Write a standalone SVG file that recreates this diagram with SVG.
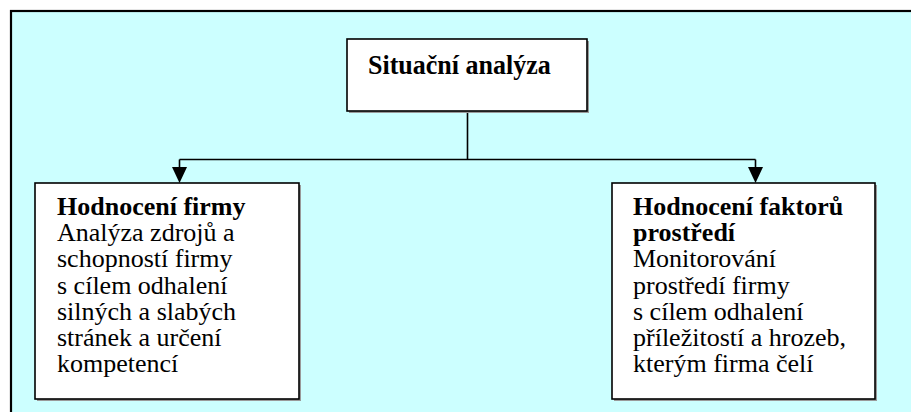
<svg xmlns="http://www.w3.org/2000/svg" width="911" height="412" viewBox="0 0 911 412">
<style>
.box{fill:#fff;stroke:#000;stroke-width:1.6}
.shadow{fill:#9a9a9a}
.t{font-family:"Liberation Serif","Times New Roman",serif;font-size:26px;fill:#000}
.b{font-weight:bold}
.ln{fill:none;stroke:#000;stroke-width:1.6}
</style>
<rect x="0" y="0" width="911" height="412" fill="#fff"/>
<rect x="11" y="11" width="930" height="430" fill="#ccffff" stroke="#000" stroke-width="2.2"/>
<g id="connectors">
<path class="ln" d="M467.5,111 V159.5 M179.5,159.5 H755.5 M179.5,159.5 V168 M755.5,159.5 V168"/>
<path d="M172,167 L187,167 L179.5,183 Z" fill="#000"/>
<path d="M748,167 L763,167 L755.5,183 Z" fill="#000"/>
</g>
<g id="situacni-analyza">
<rect class="shadow" x="349" y="41" width="240" height="72"/>
<rect class="box" x="347" y="39" width="240" height="72"/>
<text class="t b" x="368" y="0" font-size="27" transform="translate(0,74) scale(1,1.08)">Situační analýza</text>
</g>
<g id="hodnoceni-firmy">
<rect class="shadow" x="37" y="185" width="264" height="216"/>
<rect class="box" x="35" y="183" width="264" height="216"/>
<text class="t" x="57" y="215">
<tspan class="b" x="57">Hodnocení firmy</tspan>
<tspan x="57" dy="26.2">Analýza zdrojů a</tspan>
<tspan x="57" dy="26.2">schopností firmy</tspan>
<tspan x="57" dy="26.2">s cílem odhalení</tspan>
<tspan x="57" dy="26.2">silných a slabých</tspan>
<tspan x="57" dy="26.2">stránek a určení</tspan>
<tspan x="57" dy="26.2">kompetencí</tspan>
</text>
</g>
<g id="hodnoceni-faktoru">
<rect class="shadow" x="614" y="185" width="263" height="216"/>
<rect class="box" x="612" y="183" width="263" height="216"/>
<text class="t" x="633" y="215">
<tspan class="b" x="633">Hodnocení faktorů</tspan>
<tspan class="b" x="633" dy="26.2">prostředí</tspan>
<tspan x="633" dy="26.2">Monitorování</tspan>
<tspan x="633" dy="26.2">prostředí firmy</tspan>
<tspan x="633" dy="26.2">s cílem odhalení</tspan>
<tspan x="633" dy="26.2">příležitostí a hrozeb,</tspan>
<tspan x="633" dy="26.2">kterým firma čelí</tspan>
</text>
</g>
</svg>
